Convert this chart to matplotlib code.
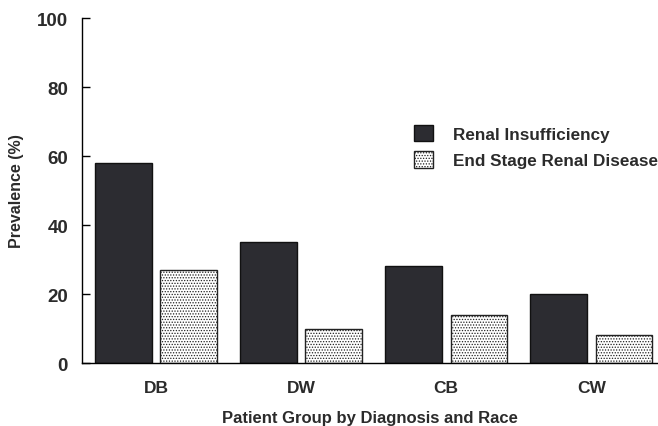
import matplotlib.pyplot as plt
import numpy as np

groups = ['DB', 'DW', 'CB', 'CW']
renal_insufficiency = [58, 35, 28, 20]
end_stage = [27, 10, 14, 8]
yticks = [0, 20, 40, 60, 80, 100]

plt.rcParams['font.family'] = ['Liberation Sans', 'DejaVu Sans']
plt.rcParams['hatch.linewidth'] = 0.6
text_color = '#2b2b2b'

fig = plt.figure(figsize=(6.58, 4.27), dpi=100)
ax = fig.add_axes([0.1246, 0.1475, 0.8754, 0.808])

x = np.arange(len(groups))
w = 0.39
ax.bar(x - 0.225, renal_insufficiency, w, color='#2c2c31', edgecolor='#111111',
       linewidth=1.0, label='Renal Insufficiency')
ax.bar(x + 0.225, end_stage, w, color='white', edgecolor='#222222',
       linewidth=1.0, hatch='......', label='End Stage Renal Disease')

ax.set_xlim(-0.51, 3.46)
ax.set_ylim(0, 100)
ax.set_yticks(yticks)
ax.set_xticks(x)
ax.set_xticklabels(groups)
ax.tick_params(axis='y', direction='in', length=6, width=1, pad=10,
               labelsize=13.5, labelcolor=text_color)
ax.tick_params(axis='x', length=0, pad=12, labelsize=12.5, labelcolor=text_color)
for lbl in ax.get_yticklabels() + ax.get_xticklabels():
    lbl.set_fontweight('bold')

for s in ['top', 'right']:
    ax.spines[s].set_visible(False)
ax.spines['left'].set_linewidth(1.0)
ax.spines['bottom'].set_linewidth(1.0)

ax.set_ylabel('Prevalence (%)', fontsize=11.5, fontweight='bold', color=text_color)
ax.yaxis.set_label_coords(-0.1, 0.5)
ax.set_xlabel('Patient Group by Diagnosis and Race', fontsize=12, fontweight='bold',
              color=text_color)
ax.xaxis.set_label_coords(0.5, -0.135)

leg = ax.legend(loc='upper left', bbox_to_anchor=(0.55, 0.735), frameon=False,
                handlelength=1.1, handleheight=1.1, handletextpad=1.15,
                labelspacing=0.55, prop={'weight': 'bold', 'size': 12.3})
for t in leg.get_texts():
    t.set_color(text_color)

fig.savefig('out.png', dpi=100)
